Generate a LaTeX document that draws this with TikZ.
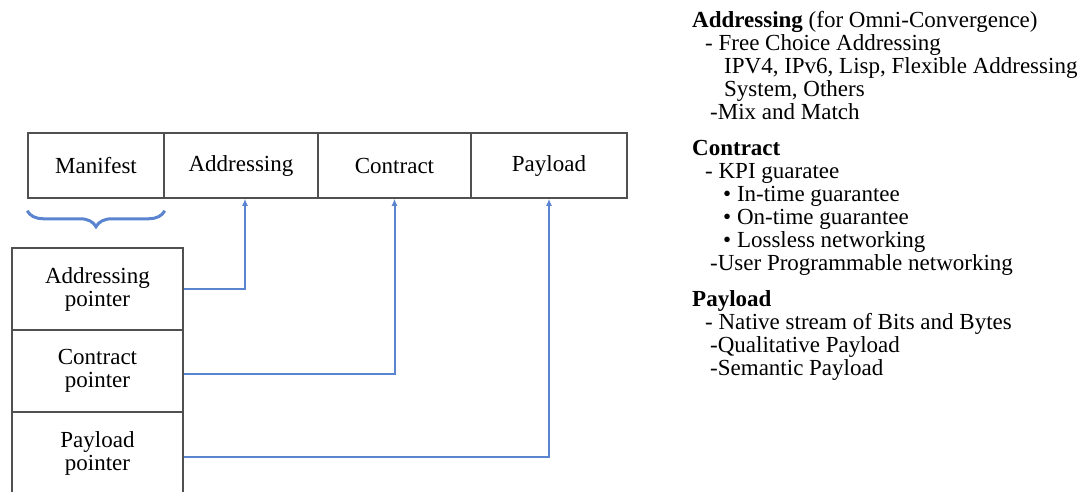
\documentclass[tikz,border=0pt]{standalone}
\usepackage{fontspec}
\setmainfont{Liberation Serif}
\usepackage{tikz}
\usetikzlibrary{arrows.meta,positioning,decorations.pathreplacing}
\usepackage{xcolor}
\definecolor{linkblue}{RGB}{91,132,208}
\definecolor{boxgray}{RGB}{80,80,80}

\begin{document}
\begin{tikzpicture}[x=1pt, y=-1pt,
    cell/.style={rectangle, draw=boxgray, line width=1.5pt, minimum height=65pt,
                 inner sep=0pt, font=\fontsize{23}{23}\selectfont},
    ptr/.style={rectangle, draw=boxgray, line width=1.5pt, minimum width=171pt,
                minimum height=82pt, inner sep=0pt, align=center,
                font=\fontsize{23}{23}\selectfont},
    link/.style={-{Latex[length=7pt,width=6pt]}, linkblue, line width=2pt},
    note/.style={anchor=north west, align=left, inner sep=0pt,
                 font=\fontsize{23}{23}\selectfont}]

    \useasboundingbox (0,0) rectangle (1083,491);

    % Header cells
    \node[cell, minimum width=136pt] (manifest) at (96,165.5) {Manifest};
    \node[cell, minimum width=154pt] (addr) at (241,165.5) {Addressing};
    \node[cell, minimum width=153pt] (contr) at (394.5,165.5) {Contract};
    \node[cell, minimum width=156pt] (payl) at (549,165.5) {Payload};

    % Pointers
    \node[ptr] (addrptr) at (97.5,289) {Addressing\\pointer};
    \node[ptr] (contrptr) at (97.5,371) {Contract\\pointer};
    \node[ptr, minimum height=83pt] (payptr) at (97.5,453.5) {Payload\\pointer};

    \draw[decorate, decoration={brace, mirror, amplitude=16pt, aspect=0.5}, linkblue, line width=3pt]
        ([yshift=-12pt]manifest.south west) -- ([yshift=-12pt]manifest.south east);

    \draw[link] (addrptr.east) -| ([xshift=4pt]addr.south);
    \draw[link] ([yshift=-3pt]contrptr.east) -| (contr.south);
    \draw[link] ([yshift=-3pt]payptr.east) -| (payl.south);

    % Notes
    \node[note] (addrnote) at (692,11) {\textbf{Addressing} (for Omni-Convergence)\\
        \hspace*{13pt}- Free Choice Addressing\\
        \hspace*{32pt}IPV4, IPv6, Lisp, Flexible Addressing\\
        \hspace*{32pt}System, Others\\
        \hspace*{18pt}-Mix and Match};
    \node[note] (contrnote) at (692,140) {\textbf{Contract}\\
        \hspace*{13pt}- KPI guaratee\\
        \hspace*{31pt}\textbullet\ In-time guarantee\\
        \hspace*{31pt}\textbullet\ On-time guarantee\\
        \hspace*{31pt}\textbullet\ Lossless networking\\
        \hspace*{18pt}-User Programmable networking};
    \node[note] (paynote) at (692,290) {\textbf{Payload}\\
        \hspace*{13pt}- Native stream of Bits and Bytes\\
        \hspace*{18pt}-Qualitative Payload\\
        \hspace*{18pt}-Semantic Payload};
\end{tikzpicture}
\end{document}
